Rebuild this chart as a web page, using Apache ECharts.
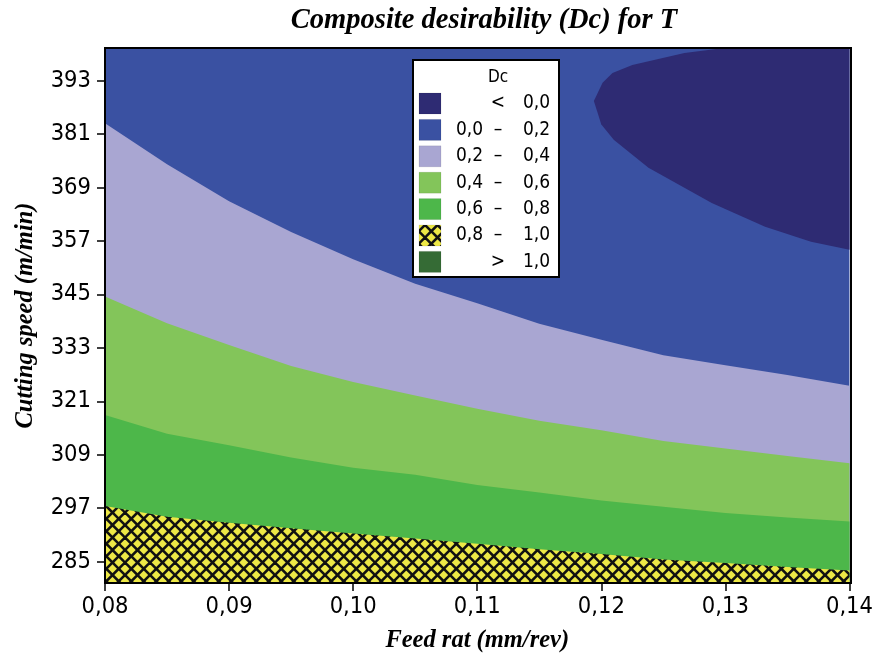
<!DOCTYPE html>
<html>
<head>
<meta charset="utf-8">
<script src="https://cdn.jsdelivr.net/npm/echarts@6/dist/echarts.min.js"></script>
<style>
html,body{margin:0;padding:0;background:#fff;}
#chart{width:876px;height:658px;}
</style>
</head>
<body>
<div id="chart"></div>
<script>
// ---- Data ----
const feedTicks = [0.08, 0.09, 0.10, 0.11, 0.12, 0.13, 0.14];
const speedTicks = [285, 297, 309, 321, 333, 345, 357, 369, 381, 393];
// feed rate grid for the contour boundaries
const feed = [0.080, 0.085, 0.090, 0.095, 0.100, 0.105, 0.110, 0.115, 0.120, 0.125, 0.130, 0.135, 0.140];
// cutting speed of each contour level along the feed grid
const level02 = [383.4, 374.2, 365.9, 359.0, 352.9, 347.4, 343.0, 338.4, 334.8, 331.3, 329.1, 326.9, 324.5];
const level04 = [344.5, 338.5, 333.6, 328.9, 325.3, 322.3, 319.3, 316.6, 314.5, 312.1, 310.4, 308.7, 307.1];
const level06 = [317.9, 313.7, 311.1, 308.4, 306.1, 304.5, 302.2, 300.5, 298.7, 297.3, 295.9, 294.9, 294.0];
const level08 = [297.5, 295.1, 293.7, 292.5, 291.3, 290.2, 289.0, 287.8, 286.7, 285.5, 284.7, 283.8, 283.0];
// Dc = 0 contour (closed region in the upper right)
const level00Feed  = [0.1299, 0.1267, 0.1225, 0.1209, 0.1201, 0.1194, 0.1200, 0.1210, 0.1238, 0.1289, 0.1332, 0.1369, 0.1400];
const level00Speed = [400.3, 399.2, 396.5, 394.7, 392.5, 388.4, 383.1, 379.7, 373.4, 365.5, 360.2, 356.8, 355.0];
const legendLow  = ['', '0,0', '0,2', '0,4', '0,6', '0,8', ''];
const legendSign = ['<', '–', '–', '–', '–', '–', '>'];
const legendHigh = ['0,0', '0,2', '0,4', '0,6', '0,8', '1,0', '1,0'];

const X_MIN = 0.08, X_MAX = 0.14, Y_MIN = 280.2, Y_MAX = 400.3;

const COLORS = {
  dark: '#2E2B73', blue: '#3A51A2', lav: '#A9A6D2', lgreen: '#83C55A',
  green: '#4DB74A', yellow: '#EDE846', dgreen: '#356B35'
};

// hatch pattern for 0.8 - 1.0
function makeHatch() {
  const s = 12.5;
  const c = document.createElement('canvas');
  c.width = 25; c.height = 25;
  const g = c.getContext('2d');
  g.fillStyle = COLORS.yellow;
  g.fillRect(0, 0, 25, 25);
  g.strokeStyle = '#111';
  g.lineWidth = 2.6;
  for (let k = -2; k <= 2; k++) {
    g.beginPath(); g.moveTo(k * s, 0); g.lineTo(k * s + 25, 25); g.stroke();
    g.beginPath(); g.moveTo(k * s + 25, 0); g.lineTo(k * s, 25); g.stroke();
  }
  return c;
}
const hatch = { image: makeHatch(), repeat: 'repeat' };

function below(level) {
  const pts = feed.map((f, i) => [f, level[i]]);
  pts.push([X_MAX, Y_MIN], [X_MIN, Y_MIN]);
  return pts;
}
const blobPts = level00Feed.map((f, i) => [f, level00Speed[i]]);
blobPts.push([X_MAX, Y_MAX]);

const regions = [
  { pts: [[X_MIN, Y_MIN], [X_MAX, Y_MIN], [X_MAX, Y_MAX], [X_MIN, Y_MAX]], fill: COLORS.blue },
  { pts: below(level02), fill: COLORS.lav },
  { pts: below(level04), fill: COLORS.lgreen },
  { pts: below(level06), fill: COLORS.green },
  { pts: below(level08), fill: hatch },
  { pts: blobPts, fill: COLORS.dark }
];

const chart = echarts.init(document.getElementById('chart'), null, { renderer: 'canvas' });

const tickFont = '"DejaVu Sans Condensed", "DejaVu Sans", sans-serif';
const serif = '"Liberation Serif", "Times New Roman", serif';

// legend graphics
const LX = 413, LY = 60, LW = 146, LH = 217;
function legendText(x, y, text, align, size) {
  return { type: 'text', z: 96, x: x, y: y,
    style: { text: text, fontSize: size, fontFamily: tickFont, fill: '#000', align: align, verticalAlign: 'middle' } };
}
const legendChildren = [
  { type: 'rect', z: 95, shape: { x: LX, y: LY, width: LW, height: LH }, style: { fill: '#fff', stroke: '#000', lineWidth: 2 } },
  legendText(498, 78, 'Dc', 'center', 17)
];
const swatchFills = [COLORS.dark, COLORS.blue, COLORS.lav, COLORS.lgreen, COLORS.green, hatch, COLORS.dgreen];
for (let i = 0; i < 7; i++) {
  const cy = 103.5 + i * 26.4;
  legendChildren.push({ type: 'rect', z: 96, shape: { x: 419, y: cy - 10.5, width: 22, height: 21 }, style: { fill: swatchFills[i], stroke: 'rgba(0,0,0,0.08)', lineWidth: 1 } });
  if (legendLow[i]) legendChildren.push(legendText(456, cy, legendLow[i], 'left', 19));
  legendChildren.push(legendText(498, cy, legendSign[i], 'center', 19));
  legendChildren.push(legendText(523, cy, legendHigh[i], 'left', 19));
}

const option = {
  animation: false,
  backgroundColor: '#fff',
  grid: { left: 105, right: 25, top: 48, bottom: 75, containLabel: false },
  xAxis: {
    type: 'value', min: X_MIN, max: X_MAX, interval: 0.01,
    name: 'Feed rat (mm/rev)', nameLocation: 'middle', nameGap: 45,
    nameTextStyle: { fontFamily: serif, fontStyle: 'italic', fontWeight: 'bold', fontSize: 24.5, color: '#000' },
    axisLine: { show: true, lineStyle: { color: '#000', width: 2 } },
    axisTick: { show: true, length: 8, lineStyle: { color: '#000', width: 1.5 } },
    axisLabel: { margin: 12, fontFamily: tickFont, fontSize: 23.5, color: '#000',
      formatter: v => v.toFixed(2).replace('.', ',') },
    splitLine: { show: false }
  },
  yAxis: {
    type: 'value', min: Y_MIN, max: Y_MAX,
    name: 'Cutting speed (m/min)', nameLocation: 'middle', nameGap: 67,
    nameTextStyle: { fontFamily: serif, fontStyle: 'italic', fontWeight: 'bold', fontSize: 24.5, color: '#000' },
    axisLine: { show: true, lineStyle: { color: '#000', width: 2 } },
    axisTick: { show: true, length: 8, customValues: speedTicks, lineStyle: { color: '#000', width: 1.5 } },
    axisLabel: { margin: 14, fontFamily: tickFont, fontSize: 23.5, color: '#000', customValues: speedTicks,
      formatter: v => String(Math.round(v)) },
    splitLine: { show: false }
  },
  series: [{
    type: 'custom',
    coordinateSystem: 'cartesian2d',
    silent: true,
    clip: true,
    encode: { x: 0, y: 1 },
    data: regions.map((r, i) => [r.pts[0][0], r.pts[0][1], i]),
    renderItem: function (params, api) {
      const r = regions[params.dataIndex];
      return {
        type: 'polygon',
        shape: { points: r.pts.map(p => api.coord(p)) },
        style: { fill: r.fill, stroke: null }
      };
    }
  }],
  graphic: [
    { type: 'text', x: 484, y: 21, z: 100, style: { text: 'Composite desirability (Dc) for T', font: 'italic bold 28.5px ' + serif, fill: '#000', align: 'center', verticalAlign: 'middle' } },
    { type: 'rect', z: 90, shape: { x: 105, y: 48, width: 746, height: 535 }, style: { fill: null, stroke: '#000', lineWidth: 2 } }
  ].concat(legendChildren)
};
chart.setOption(option);
</script>
</body>
</html>
